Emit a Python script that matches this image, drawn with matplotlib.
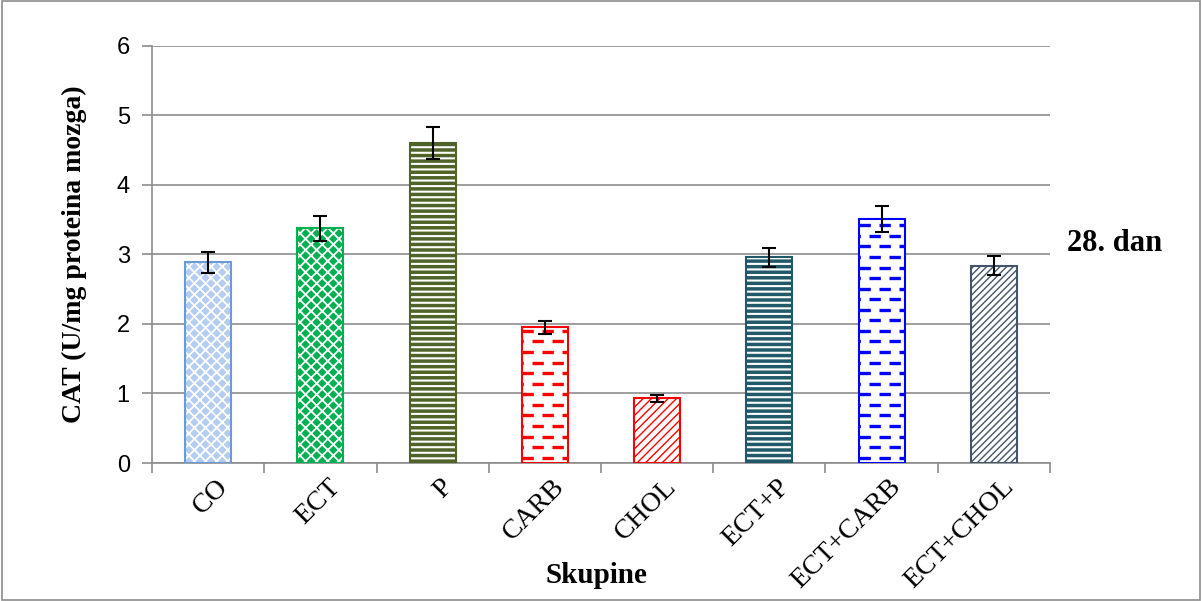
import numpy as np
import matplotlib
matplotlib.use("Agg")
import matplotlib.pyplot as plt
import matplotlib.transforms as mtransforms
from matplotlib.patches import Rectangle
from matplotlib.collections import LineCollection

# data
groups = ["CO", "ECT", "P", "CARB", "CHOL", "ECT+P", "ECT+CARB", "ECT+CHOL"]
cat_vals = [2.89, 3.38, 4.60, 1.95, 0.93, 2.96, 3.51, 2.84]
cat_err = [0.15, 0.18, 0.23, 0.10, 0.05, 0.14, 0.18, 0.14]

# style per bar: face, hatch colour, hatch, hatch width, border ("dash" = dashed rows)
faces = ["#b4cdf0", "#00b050", "#4f6228", "white", "white", "#215968", "white", "white"]
hatch_cols = ["white", "white", "white", "#ff0000", "#ff0000", "white", "#0000ff", "#44546a"]
hatches = ["xxx", "xxx", "---", "dash", "////", "---", "dash", "/////"]
hatch_lw = [1.3, 1.3, 1.5, 0, 1.0, 1.5, 0, 1.0]
borders = ["#6a9ad8", "#00b050", "#4f6228", "#ff0000", "#ff0000", "#215968", "#0000ff", "#44546a"]

serif = "Liberation Serif"
sans = "Liberation Sans"

fig = plt.figure(figsize=(12.02, 6.01), dpi=100)
ax = fig.add_axes([0.1265, 0.2296, 0.747, 0.694])

x = np.arange(len(groups))
w = 0.41
row = 0.152  # spacing of dashed rows in data units
for i in range(len(groups)):
    if hatches[i] == "dash":
        b = ax.bar(x[i], cat_vals[i], width=w, color=faces[i], linewidth=0, zorder=3)[0]
        ys = np.arange(row / 2, cat_vals[i], row)
        for k, off in enumerate([0.0, 3.0]):
            yy = ys[k::2]
            segs = [[(b.get_x(), y), (b.get_x() + b.get_width(), y)] for y in yy]
            lc = LineCollection(segs, colors=hatch_cols[i], linewidths=2.4,
                                linestyles=[(off, (3.4, 2.6))], zorder=3.5)
            lc.set_clip_path(b)
            ax.add_collection(lc)
    else:
        with plt.rc_context({"hatch.linewidth": hatch_lw[i]}):
            b = ax.bar(x[i], cat_vals[i], width=w, color=faces[i], edgecolor=hatch_cols[i],
                       hatch=hatches[i], linewidth=0, zorder=3)[0]
        if hasattr(b, "set_hatch_linewidth"):
            b.set_hatch_linewidth(hatch_lw[i])
    ax.bar(x[i], cat_vals[i], width=w, fill=False, edgecolor=borders[i],
           linewidth=1.5, zorder=4)
ax.errorbar(x, cat_vals, yerr=cat_err, fmt="none", ecolor="black", elinewidth=1.5,
            capsize=5, capthick=1.5, zorder=5)

ax.set_xlim(-0.5, len(groups) - 0.5)
ax.set_ylim(0, 6)
ax.set_yticks(range(0, 7))
ax.yaxis.grid(True, color="#8c8c8c", linewidth=1.2, zorder=0)
ax.set_axisbelow(True)
for s in ["top", "right"]:
    ax.spines[s].set_visible(False)
for s in ["left", "bottom"]:
    ax.spines[s].set_color("#8c8c8c")
    ax.spines[s].set_linewidth(1.2)

ax.tick_params(axis="y", length=7, color="#8c8c8c", width=1.2, labelsize=17, pad=9)
for t in ax.get_yticklabels():
    t.set_fontfamily(sans)

# x ticks between categories, labels centered under bars
ax.set_xticks(np.arange(-0.5, len(groups), 1.0))
ax.set_xticklabels([])
ax.set_xticks(x, minor=True)
ax.set_xticklabels(groups, minor=True, rotation=45, ha="right", va="top",
                   rotation_mode="anchor", fontfamily=serif, fontsize=20)
ax.tick_params(axis="x", which="major", length=7, color="#8c8c8c", width=1.2)
ax.tick_params(axis="x", which="minor", length=0, pad=8)
shift = mtransforms.ScaledTranslation(0.07, 0, fig.dpi_scale_trans)
for t in ax.get_xticklabels(minor=True):
    t.set_transform(t.get_transform() + shift)

ax.set_ylabel("CAT (U/mg proteina mozga)", fontfamily=serif, fontsize=20,
              fontweight="bold", labelpad=21)
fig.text(0.496, 0.043, "Skupine", fontfamily=serif, fontsize=21, fontweight="bold",
         ha="center", va="center")
fig.text(0.888, 0.595, "28. dan", fontfamily=serif, fontsize=22, fontweight="bold",
         ha="left", va="center")

fig.patches.append(Rectangle((0.0015, 0.002), 0.997, 0.996, transform=fig.transFigure,
                             fill=False, edgecolor="#8c8c8c", linewidth=1.2))

fig.savefig("out.png", dpi=100)
